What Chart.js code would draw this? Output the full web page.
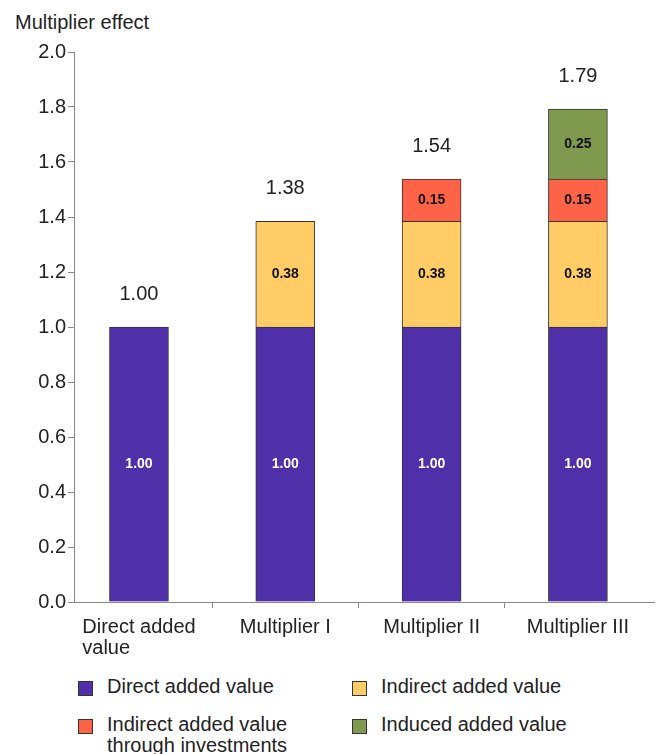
<!DOCTYPE html>
<html lang="en">
  <head>
    <meta charset="UTF-8" />
    <title>Multiplier effect</title>
    <style>
      body { margin: 0; background: #fff; font-family: "Liberation Sans", Arial, sans-serif; color: #222; }
      .wrap { position: relative; width: 659px; height: 754px; overflow: hidden; }
      .chart-box { position: absolute; left: 0; top: 0; width: 659px; height: 665px; }
      .axis-title { position: absolute; left: 15px; top: 12px; font-size: 20px; line-height: 21px; white-space: nowrap; }
      .legend-item { position: absolute; font-size: 20px; line-height: 21px; }
      .legend-item .box { position: absolute; left: 0; top: 5px; width: 13px; height: 13px; border: 1px solid #333; }
      .legend-item .label { position: absolute; left: 29px; top: 0; white-space: nowrap; }
    </style>
  </head>
  <body>
    <div class="wrap">
      <div class="axis-title">Multiplier effect</div>
      <div class="chart-box"><canvas id="myChart"></canvas></div>
      <div id="legend"></div>
    </div>

    <script src="https://cdn.jsdelivr.net/npm/chart.js@4.4.1/dist/chart.umd.min.js"></script>
    <script>
      // data
      const categories = [["Direct added", "value"], ["Multiplier I"], ["Multiplier II"], ["Multiplier III"]];
      const seriesNames = ["Direct added value", "Indirect added value", "Indirect added value\nthrough investments", "Induced added value"];
      const seriesColors = ["#5030a8", "#ffcc66", "#ff6347", "#7f9a4e"];
      const directValues = [1.00, 1.00, 1.00, 1.00];
      const indirectValues = [null, 0.384, 0.384, 0.384];
      const investmentValues = [null, null, 0.154, 0.154];
      const inducedValues = [null, null, null, 0.254];
      const yMin = 0, yMax = 2.0, yStep = 0.2;

      const allSeries = [directValues, indirectValues, investmentValues, inducedValues];

      // legend in two columns
      const legend = document.getElementById("legend");
      seriesNames.forEach((name, i) => {
        const item = document.createElement("div");
        item.className = "legend-item";
        item.style.left = (i % 2 === 0 ? 78 : 352) + "px";
        item.style.top = (i < 2 ? 676 : 714) + "px";
        item.innerHTML = '<span class="box" style="background:' + seriesColors[i] + '"></span>' +
          '<span class="label">' + name.replace("\n", "<br>") + "</span>";
        legend.appendChild(item);
      });

      const segmentLabels = {
        id: "segmentLabels",
        afterDatasetsDraw(chart) {
          const ctx = chart.ctx;
          ctx.save();
          ctx.textAlign = "center";
          ctx.textBaseline = "middle";
          ctx.font = "bold 14px 'Liberation Sans', Arial, sans-serif";
          chart.data.datasets.forEach((ds, d) => {
            const meta = chart.getDatasetMeta(d);
            meta.data.forEach((bar, j) => {
              ctx.fillStyle = d === 0 ? "#fff" : "#111";
              ctx.fillText(ds.data[j].y.toFixed(2), bar.x, (bar.y + bar.base) / 2);
            });
          });

          // totals above each bar
          const xs = chart.scales.x, ys = chart.scales.y;
          ctx.font = "20px 'Liberation Sans', Arial, sans-serif";
          ctx.fillStyle = "#222";
          categories.forEach((c, i) => {
            let total = 0;
            allSeries.forEach(s => { if (s[i] !== null) total += s[i]; });
            ctx.fillText(total.toFixed(2), xs.getPixelForValue(i), ys.getPixelForValue(total) - 33);
          });
          ctx.restore();
        }
      };

      const categoryLabels = {
        id: "categoryLabels",
        afterDraw(chart) {
          const ctx = chart.ctx;
          const xs = chart.scales.x;
          ctx.save();
          ctx.font = "20px 'Liberation Sans', Arial, sans-serif";
          ctx.fillStyle = "#222";
          ctx.textAlign = "left";
          ctx.textBaseline = "alphabetic";
          categories.forEach((lines, i) => {
            const w = Math.max(...lines.map(l => ctx.measureText(l).width));
            const left = xs.getPixelForValue(i) - w / 2;
            lines.forEach((l, k) => ctx.fillText(l, left, chart.chartArea.bottom + 31 + k * 21));
          });
          ctx.restore();
        }
      };

      const datasets = allSeries.map((values, d) => ({
        label: seriesNames[d],
        data: values.map((v, i) => (v === null ? null : { x: i, y: v })).filter(Boolean),
        backgroundColor: seriesColors[d],
        borderColor: "#333",
        borderWidth: 1,
        barThickness: 59
      }));

      new Chart(document.getElementById("myChart"), {
        type: "bar",
        data: { datasets: datasets },
        options: {
          responsive: true,
          maintainAspectRatio: false,
          animation: false,
          layout: { padding: { top: 52, right: 5, left: 0, bottom: 0 } },
          plugins: { legend: { display: false }, tooltip: { enabled: false } },
          scales: {
            x: {
              type: "linear",
              stacked: true,
              offset: false,
              min: -0.444,
              max: 3.52,
              afterBuildTicks: s => { s.ticks = [0.5, 1.5, 2.5].map(value => ({ value })); },
              afterFit: s => { s.height = 63; },
              grid: { drawOnChartArea: false, offset: false, tickLength: 6, color: "#888" },
              border: { color: "#888" },
              ticks: { callback: () => "" }
            },
            y: {
              stacked: true,
              min: yMin,
              max: yMax,
              afterFit: s => { s.width = 74; },
              grid: { drawOnChartArea: false, tickLength: 6, color: "#888" },
              border: { color: "#888" },
              ticks: {
                stepSize: yStep,
                padding: 2,
                color: "#222",
                font: { size: 20, family: "'Liberation Sans', Arial, sans-serif" },
                callback: v => v.toFixed(1)
              }
            }
          }
        },
        plugins: [segmentLabels, categoryLabels]
      });
    </script>
  </body>
</html>
